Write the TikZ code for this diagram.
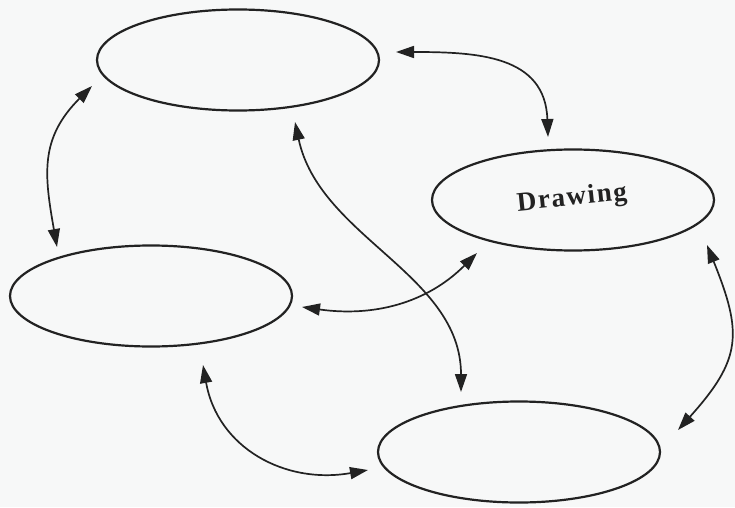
\documentclass[tikz,border=0pt]{standalone}
\usepackage{fontspec}
\setmainfont{Liberation Serif}
\usetikzlibrary{shapes.geometric,arrows.meta,calc}
\definecolor{ink}{HTML}{222222}
\definecolor{paper}{HTML}{F7F8F8}
\begin{document}
\begin{tikzpicture}[x=1pt,y=1pt,
  oval/.style={ellipse,draw=ink,line width=2.2pt,minimum width=282pt,minimum height=101pt,inner sep=0pt},
  link/.style={draw=ink,line width=1.7pt,{Triangle[length=18pt,width=12pt]}-{Triangle[length=18pt,width=12pt]}}]
\fill[paper] (0,0) rectangle (735,507);
\useasboundingbox (0,0) rectangle (735,507);
\node[oval] (top) at (238,447) {};
\node[oval] (drawing) at (573,307) {};
\node[oval] (left) at (151,211) {};
\node[oval] (bottom) at (519,55) {};
\node[rotate=6,text=ink] at ($(drawing)+(-1,1)$) {\addfontfeature{LetterSpace=6}\fontsize{27}{30}\selectfont\bfseries Drawing};
% connector end points
\coordinate (t1) at ($(top)+(158,8)$);
\coordinate (t2) at ($(top)+(-146,-26)$);
\coordinate (t3) at ($(top)+(57,-62)$);
\coordinate (d1) at ($(drawing)+(-25,63)$);
\coordinate (d4) at ($(drawing)+(-96,-53)$);
\coordinate (d5) at ($(drawing)+(134,-45)$);
\coordinate (l2) at ($(left)+(-94,49)$);
\coordinate (l4) at ($(left)+(151,-11)$);
\coordinate (l6) at ($(left)+(52,-69)$);
\coordinate (b3) at ($(bottom)+(-58,60)$);
\coordinate (b5) at ($(bottom)+(159,22)$);
\coordinate (b6) at ($(bottom)+(-151,-18)$);
\draw[link] (t1) to[out=0,in=92,looseness=1.2] (d1);
\draw[link] (t2) to[out=225,in=100,looseness=1.15] (l2);
\draw[link] (t3) to[out=-78,in=90,looseness=0.95] (b3);
\draw[link] (l4) to[out=-8,in=225,looseness=1.0] (d4);
\draw[link] (d5) to[out=-68,in=48,looseness=1.3] (b5);
\draw[link] (l6) to[out=-80,in=190,looseness=1.1] (b6);
\end{tikzpicture}
\end{document}
